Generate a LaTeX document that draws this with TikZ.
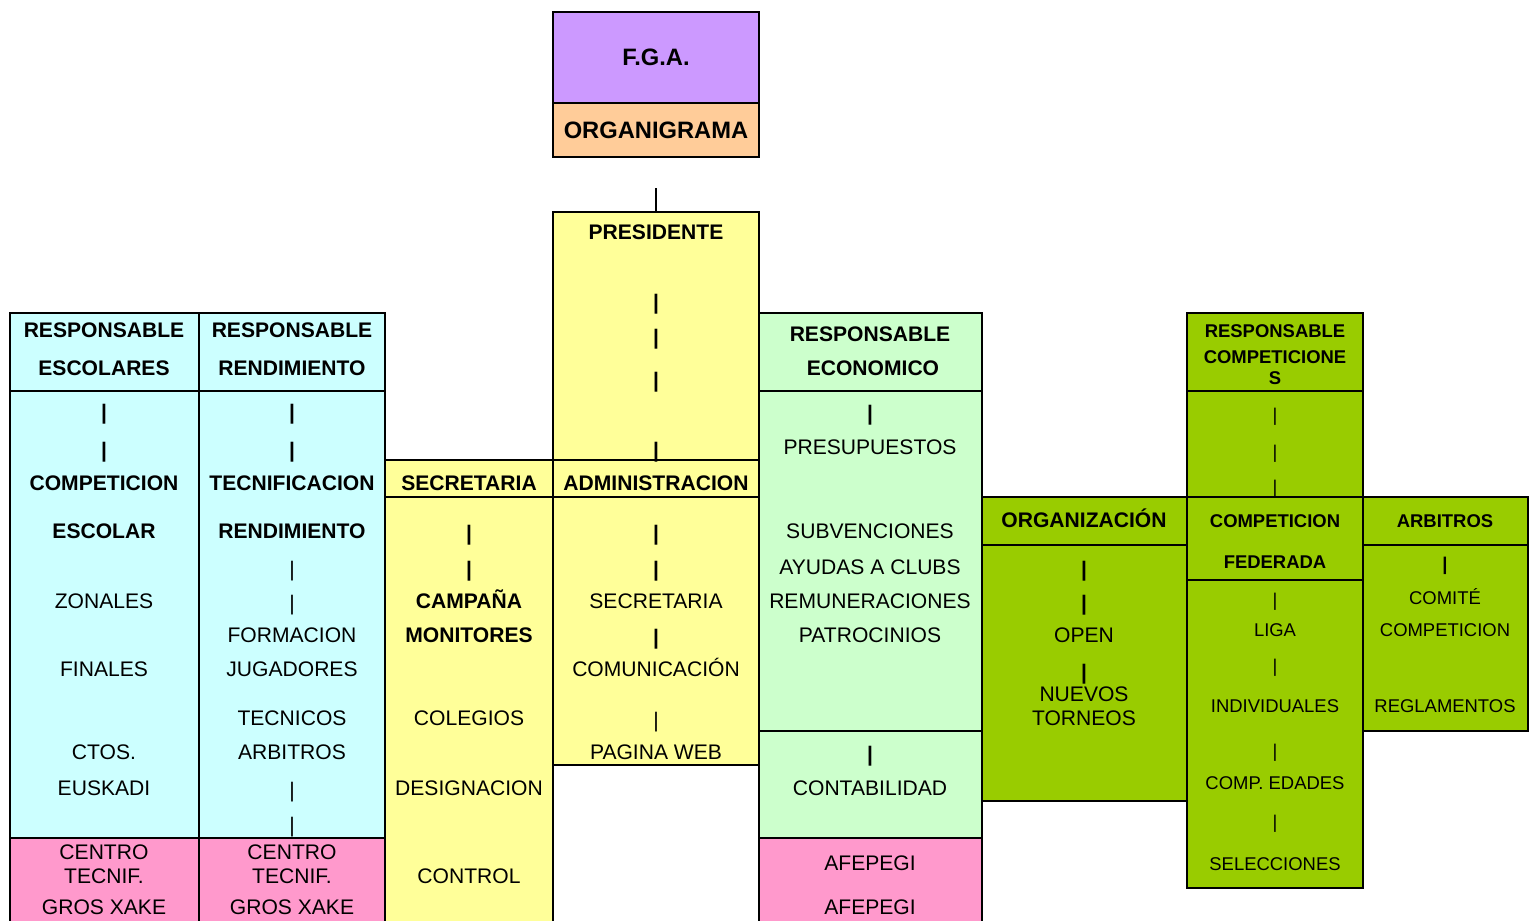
\documentclass[tikz,border=0pt]{standalone}
\usepackage{tikz}
\usepackage{fontspec}
\setmainfont{Liberation Sans}
\definecolor{celeste}{HTML}{CCFFFF}
\definecolor{amarillo}{HTML}{FFFF99}
\definecolor{verdeclaro}{HTML}{CCFFCC}
\definecolor{verde}{HTML}{99CC00}
\definecolor{rosa}{HTML}{FF99CC}
\definecolor{lila}{HTML}{CC99FF}
\definecolor{melocoton}{HTML}{FFCC99}

\begin{document}
\begin{tikzpicture}[x=0.02cm,y=-0.02cm,
  cell/.style={draw=black,line width=1.4pt},
  txt/.style={font=\fontsize{12}{14}\selectfont,inner sep=0pt,text height=8.6pt,text depth=0pt},
  small/.style={font=\fontsize{10.5}{12}\selectfont,inner sep=0pt,text height=7.5pt,text depth=0pt},
  big/.style={font=\fontsize{13.5}{15}\selectfont\bfseries,inner sep=0pt,text height=9.7pt,text depth=0pt}]
\useasboundingbox (0,0) rectangle (1533,920);
%cabecera
\filldraw[cell,fill=lila] (553,12) rectangle (759,103);
\filldraw[cell,fill=melocoton] (553,103) rectangle (759,157);
\node[big] (fga) at (656,57) {F.G.A.};
\node[big] (orga) at (656,130) {ORGANIGRAMA};
%celdas
\filldraw[cell,fill=celeste] (10,313) rectangle (199,391);
\filldraw[cell,fill=celeste] (199,313) rectangle (385,391);
\filldraw[cell,fill=celeste] (10,391) rectangle (199,838);
\filldraw[cell,fill=celeste] (199,391) rectangle (385,838);
\filldraw[cell,fill=rosa] (10,838) rectangle (199,935);
\filldraw[cell,fill=rosa] (199,838) rectangle (385,935);
\filldraw[cell,fill=amarillo] (385,460) rectangle (553,497);
\filldraw[cell,fill=amarillo] (385,497) rectangle (553,935);
\filldraw[cell,fill=amarillo] (553,212) rectangle (759,460);
\filldraw[cell,fill=amarillo] (553,460) rectangle (759,497);
\filldraw[cell,fill=amarillo] (553,497) rectangle (759,765);
\filldraw[cell,fill=verdeclaro] (759,313) rectangle (982,391);
\filldraw[cell,fill=verdeclaro] (759,391) rectangle (982,731);
\filldraw[cell,fill=verdeclaro] (759,731) rectangle (982,838);
\filldraw[cell,fill=rosa] (759,838) rectangle (982,935);
\filldraw[cell,fill=verde] (982,497) rectangle (1187,545);
\filldraw[cell,fill=verde] (982,545) rectangle (1187,801);
\filldraw[cell,fill=verde] (1187,313) rectangle (1363,391);
\filldraw[cell,fill=verde] (1187,391) rectangle (1363,497);
\filldraw[cell,fill=verde] (1187,497) rectangle (1363,580);
\filldraw[cell,fill=verde] (1187,580) rectangle (1363,888);
\filldraw[cell,fill=verde] (1363,497) rectangle (1528,545);
\filldraw[cell,fill=verde] (1363,545) rectangle (1528,731);
%linea al presidente
\coordinate (lnTop) at (656,188);
\coordinate (presTop) at (656,211);
\draw[line width=1.4pt] (lnTop) -- (presTop);
%escolares
\foreach \t/\y [count=\i] in {\textbf{RESPONSABLE}/330,\textbf{ESCOLARES}/368,\textbf{|}/412,\textbf{|}/450,
  \textbf{COMPETICION}/483,\textbf{ESCOLAR}/531,ZONALES/601,FINALES/669,CTOS./752,EUSKADI/788,
  CENTRO/852,TECNIF./876,GROS XAKE/907}
  \node[txt] (esc-\i) at (104,\y) {\t};
%rendimiento
\foreach \t/\y [count=\i] in {\textbf{RESPONSABLE}/330,\textbf{RENDIMIENTO}/368,\textbf{|}/412,\textbf{|}/450,
  \textbf{TECNIFICACION}/483,\textbf{RENDIMIENTO}/531,|/569,|/603,FORMACION/635,JUGADORES/669,
  TECNICOS/718,ARBITROS/752,|/790,|/825,CENTRO/852,TECNIF./876,GROS XAKE/907}
  \node[txt] (ren-\i) at (292,\y) {\t};
%secretaria
\foreach \t/\y [count=\i] in {\textbf{SECRETARIA}/483,\textbf{|}/533,\textbf{|}/569,\textbf{CAMPAÑA}/601,
  \textbf{MONITORES}/635,COLEGIOS/718,DESIGNACION/788,CONTROL/876}
  \node[txt] (sec-\i) at (469,\y) {\t};
%presidente
\foreach \t/\y [count=\i] in {\textbf{PRESIDENTE}/232,\textbf{|}/302,\textbf{|}/337,\textbf{|}/380,\textbf{|}/450,
  \textbf{ADMINISTRACION}/483,\textbf{|}/533,\textbf{|}/569,SECRETARIA/601,\textbf{|}/637,
  COMUNICACIÓN/669,|/720,PAGINA WEB/752}
  \node[txt] (pre-\i) at (656,\y) {\t};
%economico
\foreach \t/\y [count=\i] in {\textbf{RESPONSABLE}/334,\textbf{\ ECONOMICO}/368,\textbf{|}/413,PRESUPUESTOS/447,
  SUBVENCIONES/531,AYUDAS A CLUBS/567,REMUNERACIONES/601,PATROCINIOS/635,\textbf{|}/754,
  CONTABILIDAD/788,AFEPEGI/863,AFEPEGI/907}
  \node[txt] (eco-\i) at (870,\y) {\t};
%organizacion
\foreach \t/\y [count=\i] in {\textbf{ORGANIZACIÓN}/520,\textbf{|}/569,\textbf{|}/603,OPEN/635,\textbf{|}/672,
  NUEVOS/694,TORNEOS/718}
  \node[txt] (org-\i) at (1084,\y) {\t};
%competiciones
\foreach \t/\y [count=\i] in {\textbf{RESPONSABLE}/331,\textbf{COMPETICIONE}/357,\textbf{S}/378,|/415,|/452,|/487,
  \textbf{COMPETICION}/521,\textbf{FEDERADA}/562,|/600,LIGA/630,|/666,INDIVIDUALES/706,|/751,
  COMP. EDADES/783,|/822,SELECCIONES/864}
  \node[small] (com-\i) at (1275,\y) {\t};
%arbitros
\foreach \t/\y [count=\i] in {\textbf{ARBITROS}/521,\textbf{|}/564,COMITÉ/598,COMPETICION/630,REGLAMENTOS/706}
  \node[small] (arb-\i) at (1445,\y) {\t};
\end{tikzpicture}
\end{document}
